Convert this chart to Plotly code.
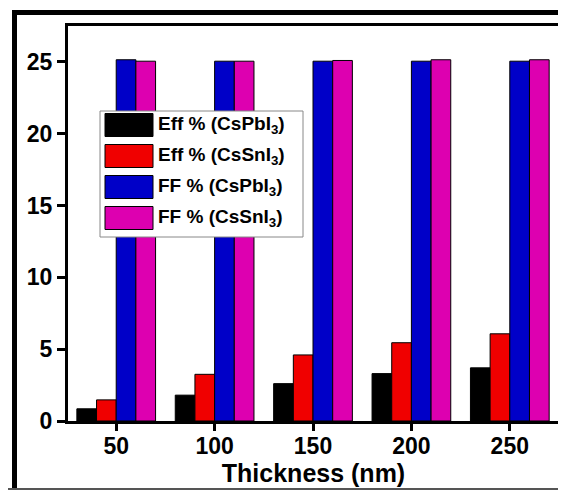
import plotly.graph_objects as go

thickness = [50, 100, 150, 200, 250]
eff_cspbi3 = [0.85, 1.8, 2.6, 3.3, 3.7]
eff_cssni3 = [1.47, 3.25, 4.6, 5.45, 6.07]
ff_cspbi3 = [25.15, 25.05, 25.05, 25.05, 25.05]
ff_cssni3 = [25.05, 25.05, 25.1, 25.15, 25.15]

names = ["Eff % (CsPbI<sub>3</sub>)", "Eff % (CsSnI<sub>3</sub>)",
         "FF % (CsPbI<sub>3</sub>)", "FF % (CsSnI<sub>3</sub>)"]
series = [eff_cspbi3, eff_cssni3, ff_cspbi3, ff_cssni3]
colors = ["#000000", "#F00000", "#0000C8", "#DD00B0"]

# page body has an 8px margin; work in reference-window pixels and offset
OFF = 8
W, H = 566 - OFF, 490 - OFF
PL, PR, PT, PB = 68, 559, 26, 421  # plot area in window pixels
L, R, T, B = PL - OFF, W - (PR - OFF), PT - OFF, H - (PB - OFF)
pw, ph = PR - PL, PB - PT

def px(xp):
    return (xp - PL) / pw

def py(yp):
    return (PB - yp) / ph

FONT = "Liberation Sans, Arial, sans-serif"

fig = go.Figure()
for n, s, c in zip(names, series, colors):
    fig.add_trace(go.Bar(x=thickness, y=s, name=n, marker=dict(color=c, line=dict(color="black", width=1))))

shapes = []
annotations = []
# outer frame
shapes.append(dict(type="line", xref="paper", yref="paper", x0=px(12), x1=px(600), y0=py(12.5), y1=py(12.5),
                   line=dict(color="black", width=5)))
shapes.append(dict(type="line", xref="paper", yref="paper", x0=px(14.5), x1=px(14.5), y0=py(10), y1=py(520),
                   line=dict(color="black", width=5)))
shapes.append(dict(type="line", xref="paper", yref="paper", x0=px(0), x1=px(600), y0=py(489), y1=py(489),
                   line=dict(color="#555555", width=2)))
# legend box
shapes.append(dict(type="rect", xref="paper", yref="paper", x0=px(100), x1=px(303), y0=py(111), y1=py(237),
                   line=dict(color="#888888", width=1), fillcolor="white"))
for i, (n, c) in enumerate(zip(names, colors)):
    yc = 125 + i * 31
    shapes.append(dict(type="rect", xref="paper", yref="paper", x0=px(105), x1=px(153),
                       y0=py(yc - 11.5), y1=py(yc + 11.5), fillcolor=c, line=dict(color="black", width=1)))
    annotations.append(dict(xref="paper", yref="paper", x=px(156), y=py(yc), xanchor="left", yanchor="middle",
                            text=n, showarrow=False, font=dict(family=FONT, size=19, color="black", weight="bold")))

fig.update_layout(
    width=W, height=H,
    margin=dict(l=L, r=R, t=T, b=B, autoexpand=False),
    paper_bgcolor="white", plot_bgcolor="white",
    barmode="group", bargap=0.2, bargroupgap=0,
    showlegend=False,
    shapes=shapes, annotations=annotations,
    font=dict(family=FONT, color="black"),
    xaxis=dict(range=[25.5, 275], tickvals=thickness, ticktext=[str(t) for t in thickness],
               showline=True, linecolor="black", linewidth=3, mirror=True,
               ticks="outside", ticklen=7, tickwidth=3, tickcolor="black",
               tickfont=dict(family=FONT, size=23, weight="bold"), ticklabelstandoff=-5,
               title=dict(text="Thickness (nm)", font=dict(family=FONT, size=25, weight="bold"), standoff=0),
               showgrid=False, zeroline=False, automargin=False),
    yaxis=dict(range=[0, 27.5], tickvals=[0, 5, 10, 15, 20, 25],
               showline=True, linecolor="black", linewidth=3, mirror=True,
               ticks="outside", ticklen=8, tickwidth=3, tickcolor="black",
               tickfont=dict(family=FONT, size=23, weight="bold"),
               showgrid=False, zeroline=False, automargin=False),
)

fig.write_html("out.html")
